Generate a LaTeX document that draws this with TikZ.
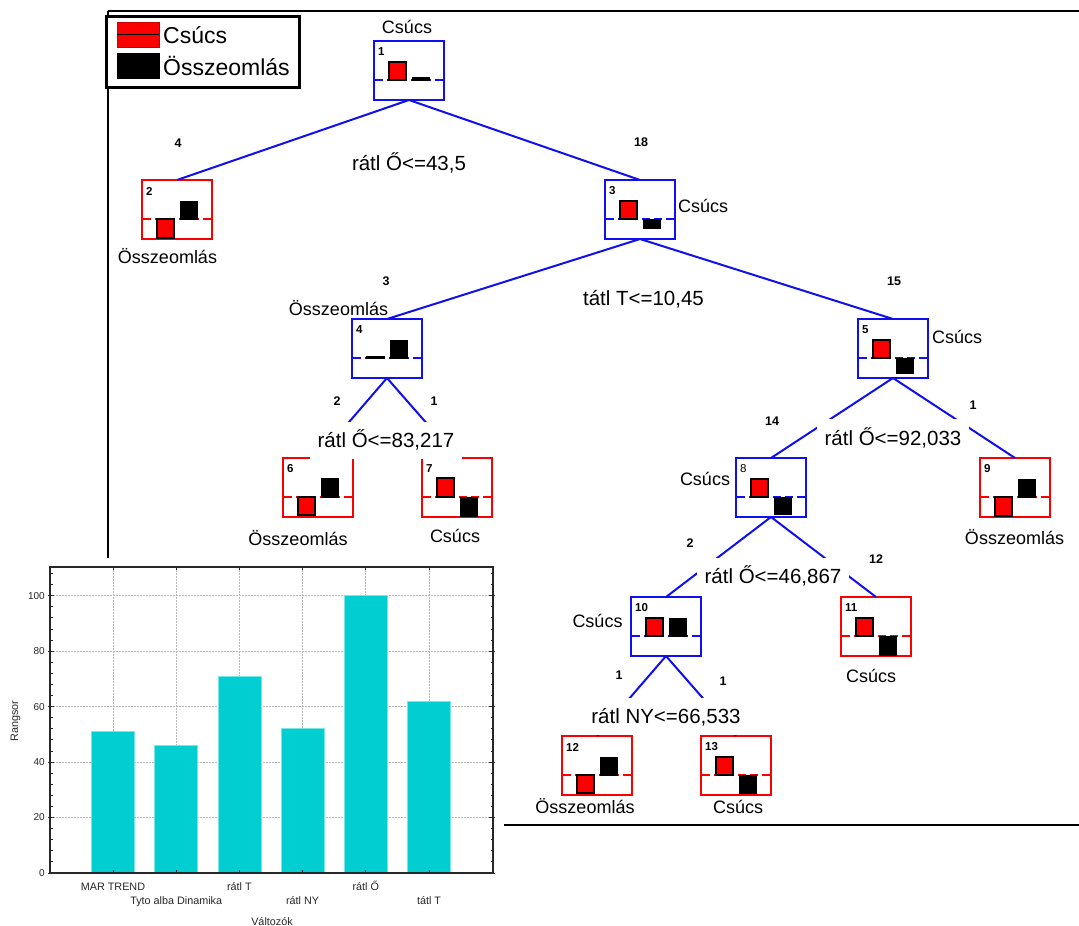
\documentclass[tikz,border=0pt]{standalone}
\usepackage{fontspec}
\setmainfont{Liberation Sans}
\definecolor{tblue}{RGB}{15,15,240}
\definecolor{tred}{RGB}{250,0,0}
\definecolor{barfill}{RGB}{0,206,209}
\definecolor{baredge}{RGB}{120,230,230}
\definecolor{axisgray}{RGB}{40,40,40}
\definecolor{gridgray}{RGB}{185,185,185}

% one classification-tree node: name, x, y, colour, number,
% red bar top/bottom, black bar top/bottom (offsets from the box's top edge)
\newcommand\treebox[9]{%
  \begin{scope}[shift={(#2,#3)}]
    \node[tbox=#4, anchor=north west] (#1) at (0,0) {};
    \draw[#4, line width=2, dash pattern=on 8pt off 4pt] (1,39) -- (69,39);
    \filldraw[fill=tred, draw=black, line width=1.5] (15,#6) rectangle (32,#7);
    \filldraw[black] (38,#8) rectangle (55,#9);
    \node[nodenum] (#1num) at (4,11) {#5};
  \end{scope}}

\begin{document}
\begin{tikzpicture}[x=1pt,y=-1pt,
  tbox/.style={draw=#1, line width=2, fill=white, minimum width=70, minimum height=59, inner sep=0, outer sep=0},
  tedge/.style={draw=tblue, line width=2},
  nodenum/.style={font=\bfseries\fontsize{11.5}{12}\selectfont, inner sep=0, anchor=west},
  cond/.style={fill=white, font=\fontsize{20.5}{21}\selectfont, text height=14.7, text depth=0, inner xsep=8, inner ysep=11.5},
  outc/.style={font=\fontsize{18}{18}\selectfont, inner sep=0, anchor=base},
  cnt/.style={font=\bfseries\fontsize{12.5}{13}\selectfont, inner sep=0},
  legtxt/.style={font=\fontsize{23}{24}\selectfont, inner sep=0, anchor=base west},
  chtxt/.style={font=\fontsize{10}{11}\selectfont, text=axisgray, inner sep=0},
  catlbl/.style={font=\fontsize{10.8}{12}\selectfont, text=axisgray, inner sep=0, anchor=base},
  gridln/.style={draw=gridgray, line width=0.8, dash pattern=on 1.5pt off 1.5pt},
  bar/.style={fill=barfill, draw=baredge, line width=0.8}]
\useasboundingbox (0,0) rectangle (1079,926);
\clip (0,0) rectangle (1079,926);

% frame of the tree panel
\draw[line width=2] (108,11) -- (1090,11);
\draw[line width=2] (108,11) -- (108,620);
\draw[line width=2] (400,825) -- (1090,825);

% tree nodes
\treebox{n1}{374}{41}{tblue}{1}{21}{39}{36}{39}
\treebox{n2}{142}{180}{tred}{2}{39}{58}{21}{39}
\treebox{n3}{605}{180}{tblue}{3}{21}{39}{39}{48}
\treebox{n4}{352}{319}{tblue}{4}{37.5}{39}{21}{39}
\treebox{n5}{858}{319}{tblue}{5}{21}{39}{39}{54}
\treebox{n6}{283}{458}{tred}{6}{39}{57}{20}{39}
\treebox{n7}{422}{458}{tred}{7}{20}{39}{39}{58}
\treebox{n8}{736}{458}{tblue}{\mdseries 8}{21}{39}{39}{56}
\treebox{n9}{980}{458}{tred}{9}{39}{58}{21}{39}
\treebox{n10}{631}{597}{tblue}{10}{21}{39}{21}{39}
\treebox{n11}{841}{597}{tred}{11}{21}{39}{39}{58}
\treebox{n12}{562}{736}{tred}{12}{39}{57}{21}{39}
\treebox{n13}{701}{736}{tred}{13}{21}{39}{39}{57}

% branches
\draw[tedge] (n1.south) -- (n2.north);
\draw[tedge] (n1.south) -- (n3.north);
\draw[tedge] (n3.south) -- (n4.north);
\draw[tedge] (n3.south) -- (n5.north);
\draw[tedge] (n4.south) -- (n6.north);
\draw[tedge] (n4.south) -- (n7.north);
\draw[tedge] (n5.south) -- (n8.north);
\draw[tedge] (n5.south) -- (n9.north);
\draw[tedge] (n8.south) -- (n10.north);
\draw[tedge] (n8.south) -- (n11.north);
\draw[tedge] (n10.south) -- (n12.north);
\draw[tedge] (n10.south) -- (n13.north);

% split conditions
\node[cond] (s1) at (409,163.5) {rátl Ő<=43,5};
\node[cond] (s3) at (643.5,298.5) {tátl T<=10,45};
\node[cond] (s4) at (386,440.5) {rátl Ő<=83,217};
\node[cond] (s5) at (893,438) {rátl Ő<=92,033};
\node[cond] (s8) at (773,576.5) {rátl Ő<=46,867};
\node[cond] (s10) at (666,716.5) {rátl NY<=66,533};

% case counts on the branches
\node[cnt] (k2) at (178,143) {4};
\node[cnt] (k3) at (641,142) {18};
\node[cnt] (k4) at (386,281) {3};
\node[cnt] (k5) at (894,281.5) {15};
\node[cnt] (k6) at (337,401) {2};
\node[cnt] (k7) at (434,401) {1};
\node[cnt] (k8) at (772,421) {14};
\node[cnt] (k9) at (973,405) {1};
\node[cnt] (k10) at (690,543) {2};
\node[cnt] (k11) at (876,559.5) {12};
\node[cnt] (k12) at (619,675) {1};
\node[cnt] (k13) at (723,681) {1};

% predicted classes
\node[outc] (o1) at (407,34) {Csúcs};
\node[outc] (o2) at (167.5,263) {Összeomlás};
\node[outc, anchor=base west] (o3) at (678,212) {Csúcs};
\node[outc] (o4) at (338.5,315) {Összeomlás};
\node[outc, anchor=base west] (o5) at (932,343) {Csúcs};
\node[outc] (o6) at (298,545) {Összeomlás};
\node[outc] (o7) at (455,542) {Csúcs};
\node[outc] (o8) at (705,485) {Csúcs};
\node[outc] (o9) at (1014.5,544) {Összeomlás};
\node[outc] (o10) at (597.5,627) {Csúcs};
\node[outc] (o11) at (871,682) {Csúcs};
\node[outc] (o12) at (585,813) {Összeomlás};
\node[outc] (o13) at (738,813) {Csúcs};

% legend
\node[draw=black, line width=2.5, fill=white, minimum width=193, minimum height=71, inner sep=0, anchor=north west] (leg) at (105,15) {};
\filldraw[fill=tred, draw=tred!80!black, line width=0.6] (117,22) rectangle (159,47);
\draw[line width=1.8] (117,34.5) -- (159,34.5);
\filldraw[black] (117,53) rectangle (159,78);
\node[legtxt] (l1) at (163,43) {Csúcs};
\node[legtxt] (l2) at (163,75) {Összeomlás};

% importance bar chart
\fill[white] (0,558) rectangle (504,926);
\foreach \v in {20,40,60,80,100}
  \draw[gridln] (50,{873-2.773*\v}) -- (493,{873-2.773*\v});
\foreach \i in {0,...,5}
  \draw[gridln] ({113+63.2*\i},567) -- ({113+63.2*\i},873);
\foreach \v [count=\i from 0] in {51,46,71,52,100,62}
  \draw[bar] ({113+63.2*\i-21.5},873) rectangle ({113+63.2*\i+21.5},{873-2.773*\v});
\foreach \v in {0,4,...,108} {
  \draw[axisgray, line width=0.9] (50,{873-2.773*\v}) -- ++(2.5,0);
  \draw[axisgray, line width=0.9] (493,{873-2.773*\v}) -- ++(-2.5,0);
}
\foreach \v in {0,20,...,100} {
  \draw[axisgray, line width=1] (48,{873-2.773*\v}) -- ++(6,0);
  \draw[axisgray, line width=1] (495,{873-2.773*\v}) -- ++(-6,0);
  \node[chtxt, anchor=east] at (45,{873-2.773*\v}) {\v};
}
\foreach \i in {0,...,5} {
  \draw[axisgray, line width=0.9] ({113+63.2*\i},567) -- ++(0,3);
  \draw[axisgray, line width=0.9] ({113+63.2*\i},873) -- ++(0,-3);
}
\draw[axisgray, line width=1.5] (50,567) rectangle (493,873);
\node[catlbl] (x1) at (113,890) {MAR TREND};
\node[catlbl] (x2) at (176.2,904) {Tyto alba Dinamika};
\node[catlbl] (x3) at (239.4,890) {rátl T};
\node[catlbl] (x4) at (302.6,904) {rátl NY};
\node[catlbl] (x5) at (365.8,890) {rátl Ő};
\node[catlbl] (x6) at (429,904) {tátl T};
\node[catlbl] (xt) at (272,925) {Változók};
\node[catlbl, rotate=90] (yt) at (18,721) {Rangsor};
\end{tikzpicture}
\end{document}
